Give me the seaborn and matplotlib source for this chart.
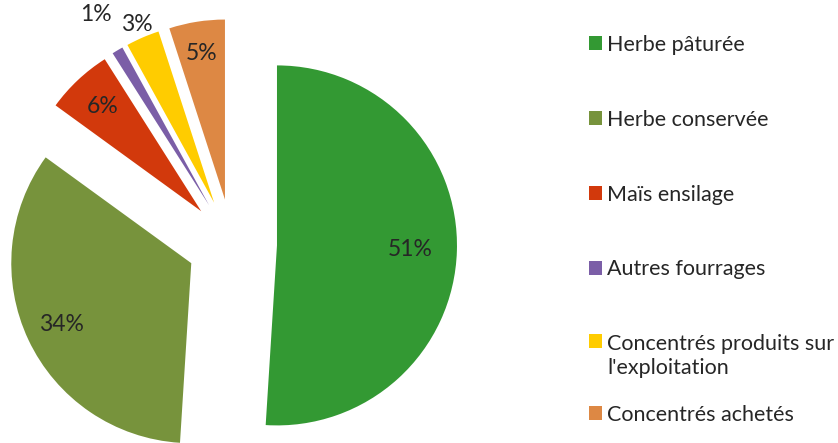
import matplotlib
matplotlib.use("Agg")
import matplotlib.pyplot as plt
import numpy as np
import seaborn as sns

categories = ["Herbe pâturée", "Herbe conservée", "Maïs ensilage", "Autres fourrages",
              "Concentrés produits sur\nl'exploitation", "Concentrés achetés"]
shares = [51, 34, 6, 1, 3, 5]
colors = ["#339933", "#77933C", "#D2390C", "#7B5EA7", "#FFCC00", "#DD8844"]
# distance of each percentage label from the wedge tip, in radii
label_dist = [0.74, 0.8, 0.8, 1.23, 1.08, 0.82]

sns.set_theme(style="white")
plt.rcParams['font.family'] = ['Lato', 'DejaVu Sans']

fig = plt.figure(figsize=(8.38, 4.43), dpi=100)
ax = fig.add_axes([0, 0, 560 / 838, 1])

palette = sns.color_palette(colors)
wedges, texts, autotexts = ax.pie(shares, colors=palette, startangle=90, counterclock=False,
                                  explode=[0.25] * len(shares), radius=1,
                                  autopct='%1.0f%%', pctdistance=0.8,
                                  wedgeprops=dict(linewidth=0),
                                  textprops=dict(fontsize=16.5, color="#262626"))

# put each label along the bisector of its wedge
for w, t, d in zip(wedges, autotexts, label_dist):
    ang = np.deg2rad((w.theta1 + w.theta2) / 2)
    cx, cy = w.center
    t.set_position((cx + d * np.cos(ang), cy + d * np.sin(ang)))
    t.set_ha("center")
    t.set_va("center")

ax.set_xlim(-232 / 180, (560 - 232) / 180)
ax.set_ylim(-(443 - 244) / 180, 244 / 180)
ax.set_axis_off()

leg_kw = dict(frameon=False, fontsize=15.5, labelspacing=2.55, handlelength=0.6, handleheight=0.6,
              handletextpad=0.25, borderpad=0, labelcolor="#262626", loc="upper left")
# Excel spaces the entries evenly, the two-line one included: split off the last entry
leg1 = fig.legend(wedges[:5], categories[:5], bbox_to_anchor=(578 / 838, 1 - 24 / 443), **leg_kw)
leg2 = fig.legend(wedges[5:], categories[5:], bbox_to_anchor=(578 / 838, 1 - 394 / 443), **leg_kw)
# handle of the two-line entry sits next to its first line
leg1._legend_handle_box.get_children()[0].get_children()[4].align = "top"

fig.savefig("out.png", dpi=100)
